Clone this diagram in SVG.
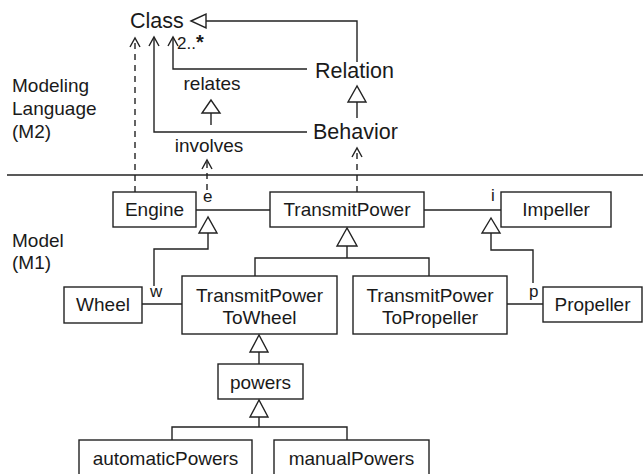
<svg xmlns="http://www.w3.org/2000/svg" width="643" height="474" viewBox="0 0 643 474">
  <defs>
    <style>
      text { font-family: "Liberation Sans", Arial, sans-serif; fill: #1a1a1a; }
      .big { font-size: 21.5px; }
      .lbl { font-size: 19px; }
      .end { font-size: 17px; }
      .box { fill: #fff; stroke: #222; stroke-width: 1.4; }
      .ln { fill: none; stroke: #222; stroke-width: 1.4; }
      .dash { fill: none; stroke: #222; stroke-width: 1.4; stroke-dasharray: 6 5; }
      .tri { fill: #fff; stroke: #222; stroke-width: 1.4; }
      .open { fill: none; stroke: #222; stroke-width: 1.4; }
    </style>
  </defs>
  <rect width="643" height="474" fill="#fff"/>

  <!-- level captions -->
  <g id="level-m2">
    <text class="lbl" x="12" y="92">Modeling</text>
    <text class="lbl" x="12" y="115">Language</text>
    <text class="lbl" x="12" y="138">(M2)</text>
  </g>
  <g id="level-m1">
    <text class="lbl" x="12" y="247">Model</text>
    <text class="lbl" x="12" y="269">(M1)</text>
  </g>
  <line class="ln" x1="7" y1="175" x2="643" y2="175"/>

  <!-- metamodel elements -->
  <g id="class"><text class="big" x="130" y="28">Class</text></g>
  <g id="relation"><text class="big" x="315" y="78">Relation</text></g>
  <g id="behavior"><text class="big" x="313" y="139">Behavior</text></g>
  <g id="relates"><text class="lbl" x="212" y="90" text-anchor="middle">relates</text></g>
  <g id="involves"><text class="lbl" x="209" y="152" text-anchor="middle">involves</text></g>

  <!-- model elements -->
  <g id="engine">
    <rect class="box" x="113" y="192" width="83" height="35"/>
    <text class="lbl" x="154.5" y="216" text-anchor="middle">Engine</text>
  </g>
  <g id="transmitPower">
    <rect class="box" x="270" y="192" width="154" height="35"/>
    <text class="lbl" x="347" y="216" text-anchor="middle">TransmitPower</text>
  </g>
  <g id="impeller">
    <rect class="box" x="501" y="192" width="110" height="35"/>
    <text class="lbl" x="556" y="216" text-anchor="middle">Impeller</text>
  </g>
  <g id="wheel">
    <rect class="box" x="64" y="287" width="78" height="36"/>
    <text class="lbl" x="103" y="311" text-anchor="middle">Wheel</text>
  </g>
  <g id="transmitPowerToWheel">
    <rect class="box" x="182" y="276" width="155" height="58"/>
    <text class="lbl" x="259.5" y="302" text-anchor="middle">TransmitPower</text>
    <text class="lbl" x="259.5" y="324" text-anchor="middle">ToWheel</text>
  </g>
  <g id="transmitPowerToPropeller">
    <rect class="box" x="353" y="276" width="154" height="58"/>
    <text class="lbl" x="430" y="302" text-anchor="middle">TransmitPower</text>
    <text class="lbl" x="430" y="324" text-anchor="middle">ToPropeller</text>
  </g>
  <g id="propeller">
    <rect class="box" x="543" y="287" width="99" height="35"/>
    <text class="lbl" x="592.5" y="311" text-anchor="middle">Propeller</text>
  </g>
  <g id="powers">
    <rect class="box" x="218" y="364" width="85" height="35"/>
    <text class="lbl" x="260.5" y="389" text-anchor="middle">powers</text>
  </g>
  <g id="automaticPowers">
    <rect class="box" x="79" y="440" width="173" height="40"/>
    <text class="lbl" x="165.5" y="465" text-anchor="middle">automaticPowers</text>
  </g>
  <g id="manualPowers">
    <rect class="box" x="274" y="440" width="155" height="40"/>
    <text class="lbl" x="351.5" y="465" text-anchor="middle">manualPowers</text>
  </g>

  <!-- connectors -->
  <g id="connectors">
    <!-- Relation specializes Class -->
    <polyline class="ln" points="357,62 357,21 206,21"/>
    <polygon class="tri" points="191,21 206,14 206,28"/>
    <!-- Relation relates 2..* Class -->
    <polyline class="ln" points="307,69 173,69 173,37"/>
    <polyline class="open" points="168,46 173,37 178,46"/>
    <text class="end" x="177" y="49">2..<tspan font-size="20" font-weight="bold">*</tspan></text>
    <!-- Behavior involves Class -->
    <polyline class="ln" points="307,132 154,132 154,37"/>
    <polyline class="open" points="149,46 154,37 159,46"/>
    <!-- Behavior specializes Relation -->
    <line class="ln" x1="357" y1="102" x2="357" y2="118"/>
    <polygon class="tri" points="357,86 348,102 366,102"/>
    <!-- involves specializes relates -->
    <line class="ln" x1="211" y1="113" x2="211" y2="125"/>
    <polygon class="tri" points="211,100 202,113 220,113"/>

    <!-- instance-of dependencies -->
    <line class="dash" x1="135" y1="192" x2="135" y2="38"/>
    <polyline class="open" points="130,47 135,38 140,47"/>
    <line class="dash" x1="207" y1="190" x2="207" y2="160"/>
    <polyline class="open" points="202,169 207,160 212,169"/>
    <line class="dash" x1="357" y1="192" x2="357" y2="148"/>
    <polyline class="open" points="352,157 357,148 362,157"/>

    <!-- TransmitPower associations -->
    <line class="ln" x1="196" y1="210" x2="270" y2="210"/>
    <line class="ln" x1="424" y1="210" x2="501" y2="210"/>
    <text class="end" x="203" y="202">e</text>
    <text class="end" x="491" y="201">i</text>

    <!-- w specializes e -->
    <polyline class="ln" points="208,233 208,249 154,249 154,286"/>
    <polygon class="tri" points="208,217 199,233 217,233"/>
    <text class="end" x="150" y="297">w</text>
    <!-- p specializes i -->
    <polyline class="ln" points="491,233 491,250 533,250 533,283"/>
    <polygon class="tri" points="491,218 482,233 500,233"/>
    <text class="end" x="529" y="297">p</text>

    <!-- subclasses of TransmitPower -->
    <line class="ln" x1="347" y1="246" x2="347" y2="258"/>
    <polyline class="ln" points="255,276 255,258 429,258 429,276"/>
    <polygon class="tri" points="347,228 337,246 357,246"/>

    <!-- Wheel / Propeller ends -->
    <line class="ln" x1="142" y1="304" x2="182" y2="304"/>
    <line class="ln" x1="507" y1="304" x2="543" y2="304"/>

    <!-- powers specializes TransmitPowerToWheel -->
    <line class="ln" x1="259" y1="352" x2="259" y2="364"/>
    <polygon class="tri" points="259,335 250,352 268,352"/>

    <!-- subclasses of powers -->
    <line class="ln" x1="259" y1="417" x2="259" y2="427"/>
    <polyline class="ln" points="172,440 172,427 347,427 347,440"/>
    <polygon class="tri" points="259,400 250,417 268,417"/>
  </g>
</svg>
